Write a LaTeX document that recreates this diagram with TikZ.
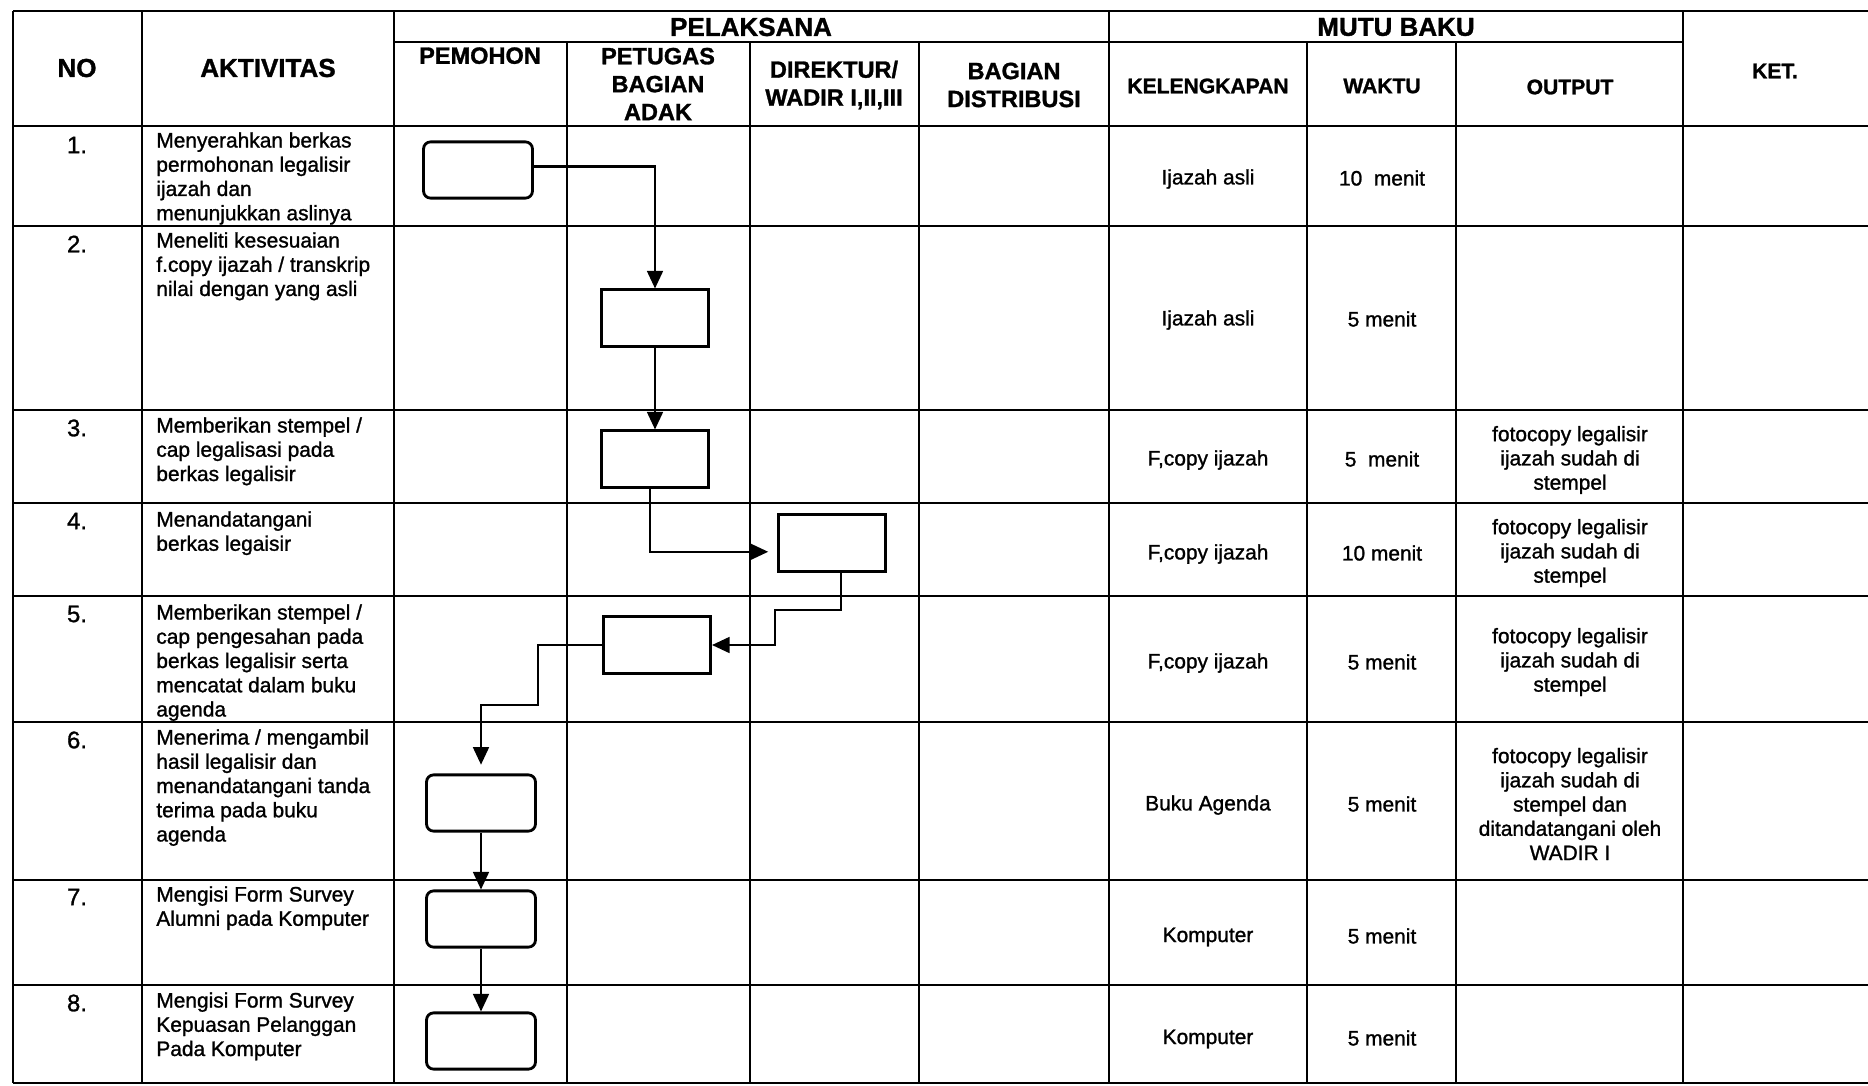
\documentclass[tikz,border=0pt]{standalone}
\usepackage{fontspec}
\setmainfont{Liberation Sans}[RawFeature={embolden=1.2}]
\usetikzlibrary{arrows.meta}

\begin{document}
\begin{tikzpicture}[x=0.02cm,y=-0.02cm,>={Triangle[length=10pt,width=9pt]}]
	\tikzstyle{every node}=[inner sep=0pt]
	\tikzstyle{grid}=[line width=1.1pt]
	\tikzstyle{head}=[font=\bfseries\fontsize{14.8}{17}\selectfont]
	\tikzstyle{subhead}=[font=\bfseries\fontsize{13.4}{15.9}\selectfont,align=center]
	\tikzstyle{mutuhead}=[font=\bfseries\fontsize{12}{14}\selectfont]
	\tikzstyle{num}=[font=\fontsize{13.6}{15}\selectfont]
	\tikzstyle{akt}=[font=\fontsize{11.9}{13.8}\selectfont,align=left,anchor=north west]
	\tikzstyle{cell}=[font=\fontsize{11.9}{13.8}\selectfont,align=center]
	\tikzstyle{mohon}=[draw,line width=1.6pt,rounded corners=4pt,minimum width=62pt,minimum height=32pt]
	\tikzstyle{proses}=[draw,line width=1.6pt,minimum width=61pt,minimum height=32pt]
	\tikzstyle{flow}=[->,line width=1.3pt]
	\useasboundingbox (0,0) rectangle (1868,1085);
	% garis tabel
	\draw[grid] (13,11) -- (1868,11);
	\draw[grid] (394,42) -- (1683,42);
	\draw[grid] (13,126) -- (1868,126);
	\draw[grid] (13,226) -- (1868,226);
	\draw[grid] (13,410) -- (1868,410);
	\draw[grid] (13,503) -- (1868,503);
	\draw[grid] (13,596) -- (1868,596);
	\draw[grid] (13,722) -- (1868,722);
	\draw[grid] (13,880) -- (1868,880);
	\draw[grid] (13,985) -- (1868,985);
	\draw[grid] (13,1083) -- (1868,1083);
	\draw[grid] (13,11) -- (13,1083);
	\draw[grid] (142,11) -- (142,1083);
	\draw[grid] (394,11) -- (394,1083);
	\draw[grid] (567,42) -- (567,1083);
	\draw[grid] (750,42) -- (750,1083);
	\draw[grid] (919,42) -- (919,1083);
	\draw[grid] (1109,11) -- (1109,1083);
	\draw[grid] (1307,42) -- (1307,1083);
	\draw[grid] (1456,42) -- (1456,1083);
	\draw[grid] (1683,11) -- (1683,1083);
	% kepala tabel
	\node[head] (no) at (77,68) {NO};
	\node[head] (aktivitas) at (268,68) {AKTIVITAS};
	\node[head] (pelaksana) at (751,27) {PELAKSANA};
	\node[head] (mutu) at (1396,27) {MUTU BAKU};
	\node[mutuhead] (ket) at (1775,71) {KET.};
	\node[subhead,anchor=north] (pemohon) at (480,47) {PEMOHON};
	\node[subhead] (petugas) at (658,84) {PETUGAS\\BAGIAN\\ADAK};
	\node[subhead] (direktur) at (834,85) {DIREKTUR/\\WADIR I,II,III};
	\node[subhead] (distribusi) at (1014,85) {BAGIAN\\DISTRIBUSI};
	\node[mutuhead] (kelengkapan) at (1208,86) {KELENGKAPAN};
	\node[mutuhead] (waktu) at (1382,86) {WAKTU};
	\node[mutuhead] (output) at (1570,87) {OUTPUT};
	% nomor
	\node[num] (n1) at (77,145) {1.};
	\node[num] (n2) at (77,244) {2.};
	\node[num] (n3) at (77,428) {3.};
	\node[num] (n4) at (77,521) {4.};
	\node[num] (n5) at (77,614) {5.};
	\node[num] (n6) at (77,740) {6.};
	\node[num] (n7) at (77,897) {7.};
	\node[num] (n8) at (77,1003) {8.};
	% aktivitas
	\node[akt] (a1) at (156,132) {Menyerahkan berkas\\permohonan legalisir\\ijazah dan\\menunjukkan aslinya};
	\node[akt] (a2) at (156,232) {Meneliti kesesuaian\\f.copy ijazah / transkrip\\nilai dengan yang asli};
	\node[akt] (a3) at (156,417) {Memberikan stempel /\\cap legalisasi pada\\berkas legalisir};
	\node[akt] (a4) at (156,511) {Menandatangani\\berkas legaisir};
	\node[akt] (a5) at (156,604) {Memberikan stempel /\\cap pengesahan pada\\berkas legalisir serta\\mencatat dalam buku\\agenda};
	\node[akt] (a6) at (156,729) {Menerima / mengambil\\hasil legalisir dan\\menandatangani tanda\\terima pada buku\\agenda};
	\node[akt] (a7) at (156,886) {Mengisi Form Survey\\Alumni pada Komputer};
	\node[akt] (a8) at (156,992) {Mengisi Form Survey\\Kepuasan Pelanggan\\Pada Komputer};
	% mutu baku
	\node[cell] (k1) at (1208,179) {Ijazah asli};
	\node[cell] (k2) at (1208,320) {Ijazah asli};
	\node[cell] (k3) at (1208,460) {F,copy ijazah};
	\node[cell] (k4) at (1208,554) {F,copy ijazah};
	\node[cell] (k5) at (1208,663) {F,copy ijazah};
	\node[cell] (k6) at (1208,805) {Buku Agenda};
	\node[cell] (k7) at (1208,937) {Komputer};
	\node[cell] (k8) at (1208,1039) {Komputer};
	\node[cell] (w1) at (1382,178) {10\ \ menit};
	\node[cell] (w2) at (1382,319) {5 menit};
	\node[cell] (w3) at (1382,459) {5\ \ menit};
	\node[cell] (w4) at (1382,553) {10 menit};
	\node[cell] (w5) at (1382,662) {5 menit};
	\node[cell] (w6) at (1382,804) {5 menit};
	\node[cell] (w7) at (1382,936) {5 menit};
	\node[cell] (w8) at (1382,1038) {5 menit};
	\node[cell] (o3) at (1570,460) {fotocopy legalisir\\ijazah sudah di\\stempel};
	\node[cell] (o4) at (1570,553) {fotocopy legalisir\\ijazah sudah di\\stempel};
	\node[cell] (o5) at (1570,662) {fotocopy legalisir\\ijazah sudah di\\stempel};
	\node[cell] (o6) at (1570,804) {fotocopy legalisir\\ijazah sudah di\\stempel dan\\ditandatangani oleh\\WADIR I};
	% bagan alir
	\node[mohon] (b1) at (478,170) {};
	\node[proses] (b2) at (655,318) {};
	\node[proses] (b3) at (655,459) {};
	\node[proses] (b4) at (832,543) {};
	\node[proses] (b5) at (657,645) {};
	\node[mohon] (b6) at (481,803) {};
	\node[mohon] (b7) at (481,919) {};
	\node[mohon] (b8) at (481,1041) {};
	\coordinate (t4) at (775,610);
	\coordinate (t5) at (538,705);
	\coordinate (e6) at ([yshift=5pt]b6.north);
	\draw[flow] ([yshift=2pt]b1.east) -| (b2.north);
	\draw[flow] (b2.south) -- (b3.north);
	\draw[flow,shorten >=5pt] ([xshift=-3pt]b3.south) |- ([yshift=-5pt]b4.west);
	\draw[flow] ([xshift=5pt]b4.south) |- (t4) |- (b5.east);
	\draw[flow] (b5.west) -| (t5) -| (e6);
	\draw[flow] (b6.south) -- (b7.north);
	\draw[flow] (b7.south) -- (b8.north);
\end{tikzpicture}
\end{document}
